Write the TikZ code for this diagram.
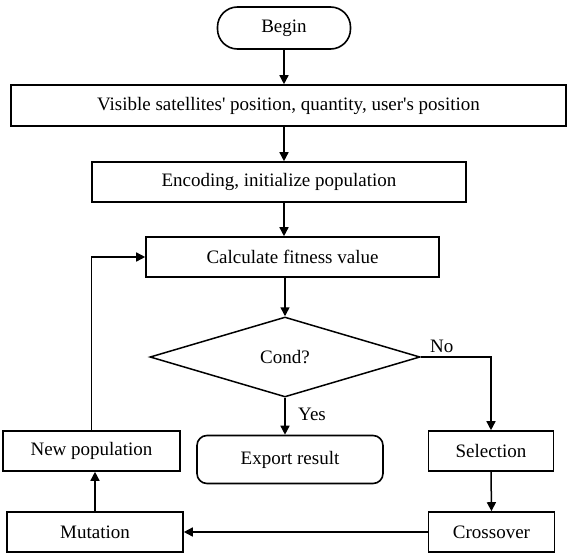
\documentclass[tikz,border=0pt]{standalone}
\usepackage{fontspec}
\setmainfont{Liberation Serif}
\usetikzlibrary{arrows.meta,shapes.geometric}
\begin{document}
\begin{tikzpicture}[x=1pt,y=-1pt,
  every node/.style={font=\fontsize{19}{22}\selectfont, inner sep=0pt},
  box/.style={draw, line width=1.6pt, rectangle},
  term/.style={draw, line width=1.6pt, rectangle},
  arr/.style={line width=1.5pt, -{Triangle[length=9pt,width=9pt]}},
  lbl/.style={font=\fontsize{19}{22}\selectfont}]
\useasboundingbox (0,0) rectangle (568,554);
\node[term, rounded corners=20pt, minimum width=133pt, minimum height=42pt] (begin) at (284,28) {Begin};
\node[box, minimum width=555pt, minimum height=41pt] (vis) at (288.5,105.5) {Visible satellites\textquotesingle{} position, quantity, user\textquotesingle{}s position};
\node[box, minimum width=374pt, minimum height=40pt] (enc) at (279,182) {Encoding, initialize population};
\node[box, minimum width=293pt, minimum height=40pt] (calc) at (292.5,257) {Calculate fitness value};
\node[draw, line width=1.5pt, diamond, minimum width=270pt, minimum height=80pt] (cond) at (285,357) {Cond?};
\node[term, rounded corners=10pt, minimum width=186pt, minimum height=48pt] (export) at (290,459.5) {Export result};
\node[box, minimum width=177pt, minimum height=40pt] (newpop) at (91.5,451) {New population};
\node[box, minimum width=125pt, minimum height=40pt] (sel) at (491,451) {Selection};
\node[box, minimum width=126pt, minimum height=40pt] (cross) at (491.5,532) {Crossover};
\node[box, minimum width=176pt, minimum height=40pt] (mut) at (95,532) {Mutation};
\draw[arr] (begin.south) -- (begin.south |- vis.north);
\draw[arr] (vis.south -| begin) -- (enc.north -| begin);
\draw[arr] (enc.south -| begin) -- (calc.north -| begin);
\draw[arr] (calc.south -| cond) -- (cond.north);
\draw[arr] (cond.south) -- (cond.south |- export.north);
\draw[arr] (cond.east) -| (sel.north);
\draw[arr] (sel.south) -- (cross.north);
\draw[arr] (cross.west) -- (mut.east);
\draw[arr] (mut.north) -- (mut.north |- newpop.south);
\draw[arr] (newpop.north) |- (calc.west);
\node[lbl, anchor=west] (yes) at (298,414) {Yes};
\node[lbl, anchor=west] (no) at (430,346) {No};
\end{tikzpicture}
\end{document}
